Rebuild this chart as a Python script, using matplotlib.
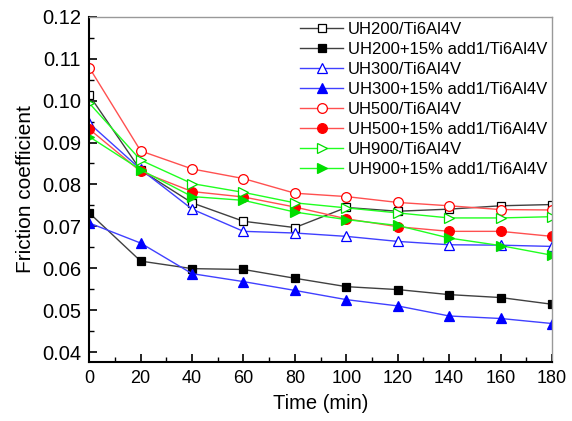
import matplotlib
matplotlib.use('Agg')
import matplotlib.pyplot as plt
from matplotlib.ticker import MultipleLocator

plt.rcParams['font.family'] = ['Liberation Sans', 'DejaVu Sans']

time_min = [0, 20, 40, 60, 80, 100, 120, 140, 160, 180]

uh200 = [0.1013, 0.0834, 0.0756, 0.0712, 0.0697, 0.0745, 0.0736, 0.0741, 0.0749, 0.0752]
uh200_add = [0.0732, 0.0617, 0.0599, 0.0597, 0.0576, 0.0556, 0.0549, 0.0537, 0.0530, 0.0514]
uh300 = [0.0946, 0.0836, 0.0741, 0.0688, 0.0684, 0.0676, 0.0664, 0.0656, 0.0655, 0.0652]
uh300_add = [0.0708, 0.0660, 0.0587, 0.0568, 0.0547, 0.0525, 0.0510, 0.0486, 0.0480, 0.0468]
uh500 = [0.1079, 0.0880, 0.0837, 0.0814, 0.0779, 0.0771, 0.0757, 0.0749, 0.0740, 0.0739]
uh500_add = [0.0932, 0.0831, 0.0783, 0.0770, 0.0746, 0.0718, 0.0699, 0.0688, 0.0688, 0.0676]
uh900 = [0.0994, 0.0858, 0.0802, 0.0781, 0.0756, 0.0744, 0.0732, 0.0720, 0.0720, 0.0723]
uh900_add = [0.0914, 0.0835, 0.0771, 0.0762, 0.0734, 0.0716, 0.0702, 0.0672, 0.0654, 0.0631]

labels = ['UH200/Ti6Al4V', 'UH200+15% add1/Ti6Al4V',
          'UH300/Ti6Al4V', 'UH300+15% add1/Ti6Al4V',
          'UH500/Ti6Al4V', 'UH500+15% add1/Ti6Al4V',
          'UH900/Ti6Al4V', 'UH900+15% add1/Ti6Al4V']
series = [uh200, uh200_add, uh300, uh300_add, uh500, uh500_add, uh900, uh900_add]

line_colors = ['#404040', '#404040', '#4040ff', '#4040ff', '#ff5050', '#ff5050', '#20ff20', '#20ff20']
mark_colors = ['#000000', '#000000', '#0000ff', '#0000ff', '#ff0000', '#ff0000', '#00dd00', '#00dd00']
markers = ['s', 's', '^', '^', 'o', 'o', '>', '>']
filled = [False, True, False, True, False, True, False, True]

fig = plt.figure(figsize=(5.72, 4.21), dpi=100)
ax = fig.add_axes([0.156, 0.140, 0.809, 0.820])

for y, lab, lc, mc, m, f in zip(series, labels, line_colors, mark_colors, markers, filled):
    ax.plot(time_min, y, color=lc, lw=1.0, marker=m, markersize=7 if m != 's' else 6,
            markerfacecolor=mc if f else 'white', markeredgecolor=mc,
            markeredgewidth=0.9, label=lab)

ax.set_xlim(0, 180)
ax.set_ylim(0.0376, 0.12)
ax.xaxis.set_major_locator(MultipleLocator(20))
ax.xaxis.set_minor_locator(MultipleLocator(10))
ax.yaxis.set_major_locator(MultipleLocator(0.01))
ax.yaxis.set_minor_locator(MultipleLocator(0.005))
ax.yaxis.set_major_formatter(plt.FormatStrFormatter('%.2f'))
ax.tick_params(which='both', direction='in', top=False, right=False)
ax.tick_params(which='major', length=6, width=1.2)
ax.tick_params(which='minor', length=3.5, width=1.0)
ax.tick_params(axis='y', labelsize=14.5, pad=6)
ax.tick_params(axis='x', labelsize=13, pad=6)

for s in ['left', 'bottom']:
    ax.spines[s].set_linewidth(1.5)
    ax.spines[s].set_color('black')
for s in ['top', 'right']:
    ax.spines[s].set_linewidth(1.0)
    ax.spines[s].set_color('#999999')

ax.set_xlabel('Time (min)', fontsize=14.5, labelpad=5)
ax.set_ylabel('Friction coefficient', fontsize=15, labelpad=5)

ax.legend(loc='upper right', frameon=False, fontsize=12, handlelength=2.6,
          handletextpad=0.25, labelspacing=0.3, borderaxespad=0.0, borderpad=0.3)

fig.savefig('out.png', dpi=100)
